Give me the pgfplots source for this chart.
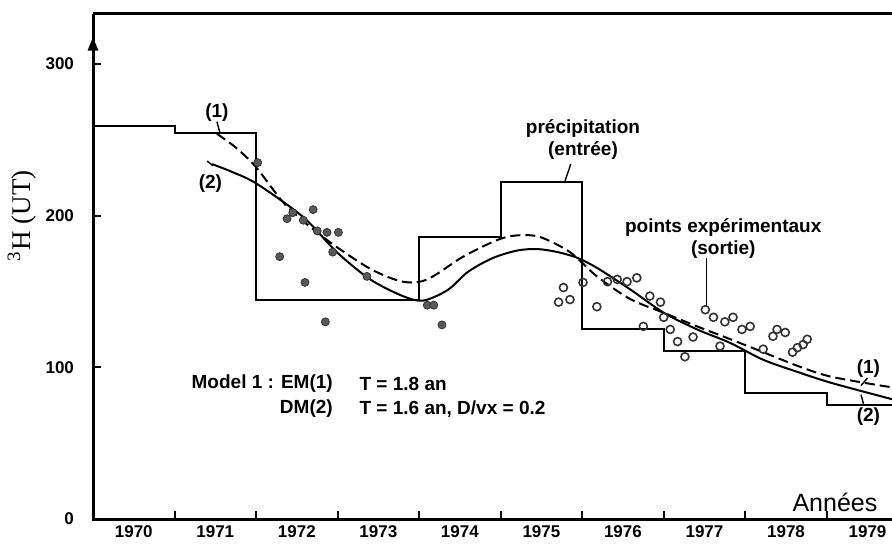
\documentclass[border=0pt]{standalone}
\usepackage{fontspec}
\setmainfont{Liberation Sans}
\newfontfamily\serif{Liberation Serif}
\usepackage{pgfplots}
\pgfplotsset{compat=1.18}
\usetikzlibrary{arrows.meta}

% step input (precipitation), model curves and measured points
\pgfplotstableread{
t v
1970 259
1971 254.5
1972 144.5
1974 186
1975 222
1976 125
1977 111
1978 83
1979 75
1979.8 75
}\entree

\begin{document}
\begin{tikzpicture}
\begin{axis}[
  scale only axis, width=399.5pt, height=252.5pt,
  xmin=1970, xmax=1979.8, ymin=0, ymax=333,
  axis line style={draw=none},
  clip=false,
  tick align=inside,
  xtick pos=bottom, ytick pos=left,
  xtick={1971,...,1979}, xticklabels={},
  extra x ticks={1970.5,1971.5,1972.5,1973.5,1974.5,1975.5,1976.5,1977.5,1978.5,1979.5},
  extra x tick labels={1970,1971,1972,1973,1974,1975,1976,1977,1978,1979},
  extra x tick style={major tick length=0pt},
  ytick={0,100,200,300},
  major tick length=4pt,
  tick style={line width=1pt, black},
  ticklabel style={font=\bfseries\fontsize{8.5}{10}\selectfont},
  yticklabel style={xshift=-6pt},
  /pgf/number format/assume math mode=true,
  /pgf/number format/1000 sep={},
]
\coordinate (sw) at (rel axis cs:0,0);
\coordinate (ne) at (rel axis cs:1,1);
\draw[line width=1.5pt] (rel axis cs:0,1) -- (rel axis cs:0,0) -- (rel axis cs:1,0);
\draw[line width=1.5pt] (rel axis cs:0,1) -- (rel axis cs:1,1);
\draw[line width=1.5pt, -{Triangle[length=7pt,width=5pt]}] (axis cs:1970,300) -- (axis cs:1970,318);

\addplot[const plot, line width=1pt, black] table[x=t, y=v] {\entree};

% (1) EM, dashed
\addplot[smooth, line width=1pt, black, dash pattern=on 5pt off 2.5pt] coordinates {
(1971.52,254) (1971.75,245) (1972.0,232) (1972.38,206) (1972.87,184)
(1973.4,165) (1973.8,156.5) (1974.1,158) (1974.54,173) (1974.96,184)
(1975.2,187) (1975.48,186) (1975.85,176) (1976.18,160) (1976.59,145)
(1977.0,136) (1977.41,127) (1977.82,118.5) (1978.22,110) (1978.64,101)
(1979.04,94) (1979.66,88) (1979.8,87)
};
% (2) DM, solid
\addplot[smooth, line width=1pt, black] coordinates {
(1971.46,234) (1971.7,229) (1972.01,221) (1972.58,199) (1972.99,176)
(1973.4,158) (1973.8,147) (1974.05,144) (1974.35,151) (1974.6,163)
(1974.9,172) (1975.2,177) (1975.45,178) (1975.7,176) (1975.95,172)
(1976.2,165) (1976.6,151) (1977.0,136) (1977.41,125) (1977.82,116)
(1978.22,105) (1978.64,97) (1979.04,90) (1979.66,81) (1979.8,79)
};

\addplot[only marks, mark=*, mark size=2pt, mark options={fill=black!65, draw=black!80}] coordinates {
(1972.02,235) (1972.38,198) (1972.45,202) (1972.58,197) (1972.70,204)
(1972.75,190) (1972.87,189) (1973.01,189) (1972.94,176) (1972.29,173)
(1972.60,156) (1973.36,160) (1972.85,130) (1974.10,141) (1974.18,141)
(1974.28,128)
};
\addplot[only marks, mark=o, mark size=2pt, mark options={line width=0.8pt, black!80}] coordinates {
(1975.71,143) (1975.77,152.6) (1975.85,144.7) (1976.01,156) (1976.18,140)
(1976.31,156.5) (1976.43,158) (1976.55,156.5) (1976.67,159) (1976.75,127)
(1976.83,147) (1976.96,143) (1977.0,133) (1977.08,125) (1977.17,117)
(1977.26,107) (1977.36,120) (1977.51,138) (1977.61,133) (1977.69,114)
(1977.75,130) (1977.85,133) (1977.96,125) (1978.06,127) (1978.22,112)
(1978.34,120.5) (1978.39,125) (1978.49,123) (1978.58,110) (1978.64,113)
(1978.71,115) (1978.76,118.5)
};

\tikzset{lab/.style={font=\bfseries\fontsize{9.5}{11}\selectfont, inner sep=1pt}}
\node[lab] at (axis cs:1971.52,268) {(1)};
\draw[line width=0.7pt] (axis cs:1971.52,262) -- (axis cs:1971.56,254);
\node[lab] at (axis cs:1971.44,221) {(2)};
\draw[line width=0.7pt] (axis cs:1971.40,236) -- (axis cs:1971.47,233);

\node[lab, align=center] at (axis cs:1976.01,250) {précipitation\\(entrée)};
\draw[line width=0.7pt] (axis cs:1975.79,223) -- (axis cs:1975.86,234);
\node[lab, align=center] at (axis cs:1977.73,185) {points expérimentaux\\(sortie)};
\draw[line width=0.5pt] (axis cs:1977.52,172) -- (axis cs:1977.52,140);

\node[lab] at (axis cs:1979.51,99.5) {(1)};
\draw[line width=0.7pt] (axis cs:1979.50,93) -- (axis cs:1979.42,88);
\node[lab] at (axis cs:1979.51,67.5) {(2)};
\draw[line width=0.7pt] (axis cs:1979.42,82) -- (axis cs:1979.45,76);

\node[lab, anchor=east] at (axis cs:1972.97,89) {Model 1 : EM(1)};
\node[lab, anchor=west] at (axis cs:1973.24,89) {T = 1.8 an};
\node[lab, anchor=east] at (axis cs:1972.97,72.7) {DM(2)};
\node[lab, anchor=west] at (axis cs:1973.24,72.7) {T = 1.6 an, D/vx = 0.2};

\node[anchor=base, font=\fontsize{12.5}{14}\selectfont, inner sep=0pt] at (axis cs:1979.1,5) {Années};
\node[rotate=90, font=\serif\fontsize{13.5}{15}\selectfont] at ([xshift=-35.5pt]axis cs:1970,200) {\textsuperscript{3}H (UT)};
\end{axis}
\pgfresetboundingbox
\path[use as bounding box] ([xshift=-46.5pt,yshift=-13pt]sw) rectangle ([yshift=7pt]ne);
\end{tikzpicture}
\end{document}
